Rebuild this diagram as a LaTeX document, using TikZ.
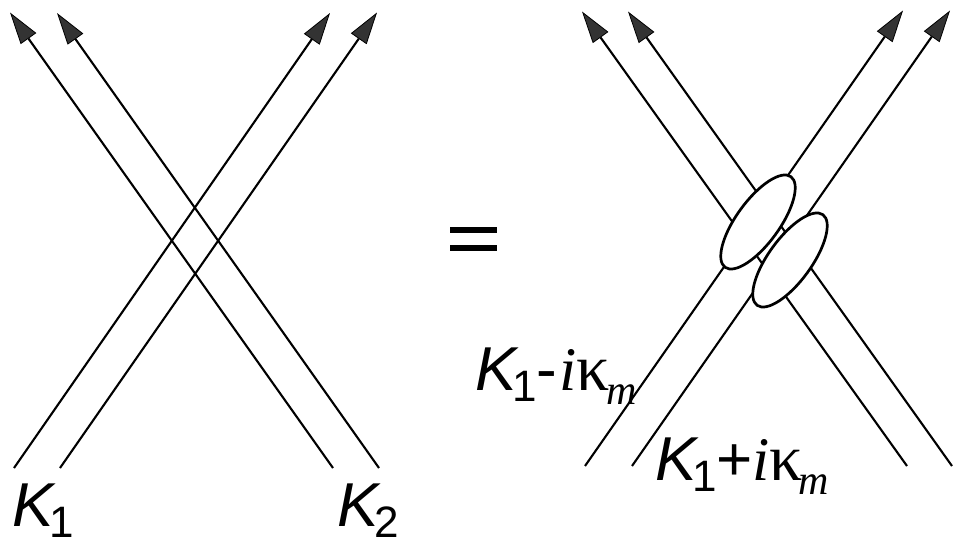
\documentclass[tikz,border=0pt]{standalone}
\usepackage{fontspec}
\setmainfont{Liberation Sans}
\newfontfamily\tnr{Liberation Serif}
\usetikzlibrary{arrows.meta,shapes.geometric}
\newcommand{\subdig}[1]{\kern-4pt\raisebox{-11pt}{\fontsize{44}{44}\selectfont\upshape #1}}
\newcommand{\subm}{\kern-4pt\raisebox{-14pt}{\fontsize{42}{42}\selectfont\tnr\itshape m}}
\newcommand{\kap}{{\fontsize{66}{66}\selectfont\tnr κ}}
\newcommand{\ital}{{\tnr\itshape i}}
\begin{document}
\begin{tikzpicture}[x=1pt,y=-1pt,
  ray/.style={line width=2.1pt,
    -{Triangle[length=32pt,width=19pt,fill=black!80,line width=0.8pt]}},
  blob/.style={ellipse, draw, line width=2.7pt, fill=white,
    minimum width=112pt, minimum height=43pt, inner sep=0pt, rotate=54},
  lbl/.style={inner sep=0pt, anchor=base west,
    font=\fontsize{62}{62}\selectfont}]
\useasboundingbox[fill=white] (0,0) rectangle (953,545);

% left diagram
\coordinate (la1) at (14,468);  \coordinate (la2) at (330,13);
\coordinate (lb1) at (60,468);  \coordinate (lb2) at (377,12.5);
\coordinate (lc1) at (333,468); \coordinate (lc2) at (10,12.5);
\coordinate (ld1) at (379,468); \coordinate (ld2) at (57,13);
\draw[ray] (la1) -- (la2);
\draw[ray] (lb1) -- (lb2);
\draw[ray] (lc1) -- (lc2);
\draw[ray] (ld1) -- (ld2);

% equals sign
\fill (450,227) rectangle (497,233);
\fill (450,245) rectangle (497,251);

% right diagram
\coordinate (ra1) at (585,466); \coordinate (ra2) at (903,10.5);
\coordinate (rb1) at (632,466); \coordinate (rb2) at (950,10.5);
\coordinate (rc1) at (907,466); \coordinate (rc2) at (582,11.5);
\coordinate (rd1) at (952,466); \coordinate (rd2) at (628,11.5);
\draw[ray] (ra1) -- (ra2);
\draw[ray] (rb1) -- (rb2);
\draw[ray] (rc1) -- (rc2);
\draw[ray] (rd1) -- (rd2);
\node[blob] (e1) at (758,222) {};
\node[blob] (e2) at (790,260) {};

% labels
\node[lbl] (k1) at (12,526) {\itshape K\subdig{1}};
\node[lbl] (k2) at (337,526) {\itshape K\subdig{2}};
\node[lbl] (km) at (475,390) {\itshape K\subdig{1}\upshape\kern-1pt-\kern3pt\ital\kap\subm};
\node[lbl] (kp) at (655,480) {\itshape K\subdig{1}\upshape\kern-1pt+\ital\kap\subm};
\end{tikzpicture}
\end{document}
